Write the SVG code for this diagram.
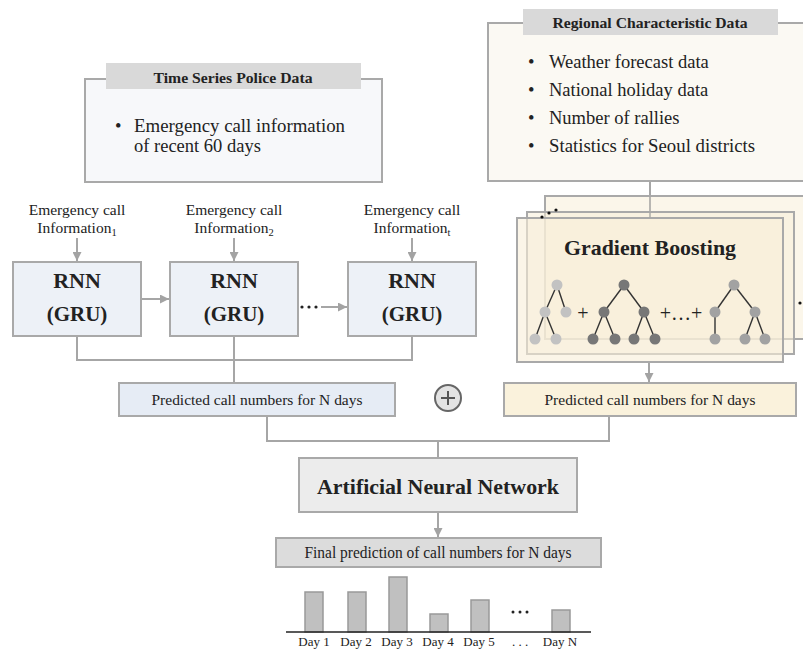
<svg xmlns="http://www.w3.org/2000/svg" width="803" height="650" viewBox="0 0 803 650">
<defs>
<marker id="ah" viewBox="0 0 10 10" refX="10" refY="5" markerWidth="9" markerHeight="9" markerUnits="userSpaceOnUse" orient="auto">
<path d="M0,0 L10,5 L0,10 z" fill="#a3a3a3"/>
</marker>
<style>
.t{font-family:"Liberation Serif","Times New Roman",serif;fill:#222}
.b{font-weight:bold}
.box{stroke:#a9a9a9;stroke-width:2}
.ln{stroke:#a6a6a6;stroke-width:2;fill:none}
.ed{stroke:#333;stroke-width:1.4}
.l1{fill:#c2c2c2}.d1{fill:#777}.m1{fill:#a2a2a2}
</style>
</defs>
<rect width="803" height="650" fill="#fff"/>

<g id="connectors">
<line class="ln" x1="77" y1="238" x2="77" y2="261" marker-end="url(#ah)"/>
<line class="ln" x1="234" y1="238" x2="234" y2="261" marker-end="url(#ah)"/>
<line class="ln" x1="412" y1="238" x2="412" y2="261" marker-end="url(#ah)"/>
<line class="ln" x1="141" y1="299" x2="169" y2="299" marker-end="url(#ah)"/>
<line class="ln" x1="321" y1="307" x2="347" y2="307" marker-end="url(#ah)"/>
<polyline class="ln" points="77,336 77,360 412,360 412,336"/>
<line class="ln" x1="234" y1="336" x2="234" y2="383"/>
<polyline class="ln" points="267,416 267,441 609,441 609,416"/>
<line class="ln" x1="438" y1="441" x2="438" y2="458"/>
<line class="ln" x1="438" y1="512" x2="438" y2="537" marker-end="url(#ah)"/>
<line class="ln" x1="650" y1="181" x2="650" y2="218"/>
<line class="ln" x1="649" y1="362" x2="649" y2="382" marker-end="url(#ah)"/>
</g>

<g id="time-series-box">
<rect class="box" x="85" y="79" width="297" height="103" fill="#f7f8fa"/>
<rect x="106" y="63" width="255" height="26" fill="#d9d9d9"/>
<text class="t b" x="233" y="83" font-size="15" text-anchor="middle" textLength="159" lengthAdjust="spacingAndGlyphs">Time Series Police Data</text>
<text class="t" x="115" y="132" font-size="18.5">•</text>
<text class="t" x="134" y="132" font-size="18.5" textLength="211" lengthAdjust="spacingAndGlyphs">Emergency call information</text>
<text class="t" x="134" y="152" font-size="18.5">of recent 60 days</text>
</g>

<g id="regional-box">
<rect class="box" x="488" y="23" width="330" height="158" fill="#fbf9f3"/>
<rect x="523" y="9" width="255" height="26" fill="#d9d9d9"/>
<text class="t b" x="650" y="28" font-size="15" text-anchor="middle" textLength="195" lengthAdjust="spacingAndGlyphs">Regional Characteristic Data</text>
<text class="t" x="528" y="68" font-size="18.5">•</text>
<text class="t" x="549" y="68" font-size="18.5">Weather forecast data</text>
<text class="t" x="528" y="96" font-size="18.5">•</text>
<text class="t" x="549" y="96" font-size="18.5">National holiday data</text>
<text class="t" x="528" y="124" font-size="18.5">•</text>
<text class="t" x="549" y="124" font-size="18.5">Number of rallies</text>
<text class="t" x="528" y="152" font-size="18.5">•</text>
<text class="t" x="549" y="152" font-size="18.5" textLength="206" lengthAdjust="spacingAndGlyphs">Statistics for Seoul districts</text>
</g>

<g id="input-labels">
<text class="t" x="77" y="215" font-size="15.5" text-anchor="middle">Emergency call</text>
<text class="t" x="77" y="233" font-size="15.5" text-anchor="middle">Information<tspan font-size="10.5" dy="3">1</tspan></text>
<text class="t" x="234" y="215" font-size="15.5" text-anchor="middle">Emergency call</text>
<text class="t" x="234" y="233" font-size="15.5" text-anchor="middle">Information<tspan font-size="10.5" dy="3">2</tspan></text>
<text class="t" x="412" y="215" font-size="15.5" text-anchor="middle">Emergency call</text>
<text class="t" x="412" y="233" font-size="15.5" text-anchor="middle">Information<tspan font-size="10.5" dy="3">t</tspan></text>
</g>

<g id="rnn1">
<rect class="box" x="13" y="262" width="128" height="74" fill="#edf1f7"/>
<text class="t b" x="77" y="288" font-size="22" text-anchor="middle">RNN</text>
<text class="t b" x="77" y="321" font-size="21" text-anchor="middle">(GRU)</text>
</g>
<g id="rnn2">
<rect class="box" x="170" y="262" width="128" height="74" fill="#edf1f7"/>
<text class="t b" x="234" y="288" font-size="22" text-anchor="middle">RNN</text>
<text class="t b" x="234" y="321" font-size="21" text-anchor="middle">(GRU)</text>
</g>
<g id="rnn-dots">
<circle cx="302" cy="307" r="1.6" fill="#222"/>
<circle cx="309" cy="307" r="1.6" fill="#222"/>
<circle cx="316" cy="307" r="1.6" fill="#222"/>
</g>
<g id="rnn3">
<rect class="box" x="348" y="262" width="128" height="74" fill="#edf1f7"/>
<text class="t b" x="412" y="288" font-size="22" text-anchor="middle">RNN</text>
<text class="t b" x="412" y="321" font-size="21" text-anchor="middle">(GRU)</text>
</g>

<g id="gradient-boosting">
<rect class="box" x="545" y="196" width="270" height="143" fill="#f8efd8" fill-opacity="0.55"/>
<rect class="box" x="527" y="212" width="267" height="142" fill="#f8efd8" fill-opacity="0.55"/>
<rect class="box" x="517" y="218" width="266" height="144" fill="#f8efd8" fill-opacity="0.6"/>
<line class="ln" x1="650" y1="196" x2="650" y2="218" stroke-opacity="0.6"/>
<circle cx="542" cy="217" r="1.6" fill="#111"/>
<circle cx="549" cy="213" r="1.6" fill="#111"/>
<circle cx="556" cy="210" r="1.6" fill="#111"/>
<circle cx="800" cy="303" r="1.6" fill="#111"/>
<text class="t b" x="650" y="255" font-size="22" text-anchor="middle" textLength="172" lengthAdjust="spacingAndGlyphs">Gradient Boosting</text>
<g>
<line class="ed" x1="557" y1="285" x2="545" y2="312"/><line class="ed" x1="557" y1="285" x2="566" y2="312"/>
<line class="ed" x1="545" y1="312" x2="535" y2="339"/><line class="ed" x1="545" y1="312" x2="556" y2="339"/>
<circle class="l1" cx="557" cy="285" r="5.5"/><circle class="l1" cx="545" cy="312" r="5.5"/><circle class="l1" cx="566" cy="312" r="5.5"/>
<circle class="l1" cx="535" cy="339" r="5.5"/><circle class="l1" cx="556" cy="339" r="5.5"/>
</g>
<text class="t" x="583" y="320" font-size="20" text-anchor="middle">+</text>
<g>
<line class="ed" x1="624" y1="285" x2="604" y2="312"/><line class="ed" x1="624" y1="285" x2="644" y2="312"/>
<line class="ed" x1="604" y1="312" x2="593" y2="339"/><line class="ed" x1="604" y1="312" x2="615" y2="339"/>
<line class="ed" x1="644" y1="312" x2="634" y2="339"/><line class="ed" x1="644" y1="312" x2="655" y2="339"/>
<circle class="d1" cx="624" cy="285" r="5.5"/><circle class="d1" cx="604" cy="312" r="5.5"/><circle class="d1" cx="644" cy="312" r="5.5"/>
<circle class="d1" cx="593" cy="339" r="5.5"/><circle class="d1" cx="615" cy="339" r="5.5"/><circle class="d1" cx="634" cy="339" r="5.5"/><circle class="d1" cx="655" cy="339" r="5.5"/>
</g>
<text class="t" x="681" y="320" font-size="20" text-anchor="middle">+…+</text>
<g>
<line class="ed" x1="734" y1="285" x2="715" y2="312"/><line class="ed" x1="734" y1="285" x2="755" y2="312"/>
<line class="ed" x1="715" y1="312" x2="715" y2="339"/>
<line class="ed" x1="755" y1="312" x2="745" y2="339"/><line class="ed" x1="755" y1="312" x2="765" y2="339"/>
<circle class="m1" cx="734" cy="285" r="5.5"/><circle class="m1" cx="715" cy="312" r="5.5"/><circle class="m1" cx="755" cy="312" r="5.5"/>
<circle class="m1" cx="715" cy="339" r="5.5"/><circle class="m1" cx="745" cy="339" r="5.5"/><circle class="m1" cx="765" cy="339" r="5.5"/>
</g>
</g>

<g id="pred-rnn">
<rect class="box" x="119" y="383" width="276" height="33" fill="#e6ecf5"/>
<text class="t" x="257" y="405" font-size="15.5" text-anchor="middle" textLength="211" lengthAdjust="spacingAndGlyphs">Predicted call numbers for N days</text>
</g>

<g id="plus">
<circle cx="448" cy="398" r="13" fill="#e3e3e3" stroke="#666" stroke-width="2"/>
<path d="M441,398 H455 M448,391 V405" stroke="#555" stroke-width="2"/>
</g>

<g id="pred-gb">
<rect class="box" x="504" y="383" width="292" height="33" fill="#faf2dc"/>
<text class="t" x="650" y="405" font-size="15.5" text-anchor="middle" textLength="211" lengthAdjust="spacingAndGlyphs">Predicted call numbers for N days</text>
</g>

<g id="ann">
<rect class="box" x="299" y="458" width="278" height="54" fill="#ececec"/>
<text class="t b" x="438" y="494" font-size="22" text-anchor="middle" textLength="242" lengthAdjust="spacingAndGlyphs">Artificial Neural Network</text>
</g>

<g id="final">
<rect class="box" x="276" y="538" width="325" height="29" fill="#dcdcdc"/>
<text class="t" x="438" y="558" font-size="16" text-anchor="middle" textLength="267" lengthAdjust="spacingAndGlyphs">Final prediction of call numbers for N days</text>
</g>

<g id="bar-chart">
<g fill="#c0c0c0" stroke="#999" stroke-width="1.5">
<rect x="305" y="592" width="18" height="40"/>
<rect x="348" y="592" width="18" height="40"/>
<rect x="389" y="577" width="18" height="55"/>
<rect x="430" y="614" width="18" height="18"/>
<rect x="471" y="600" width="18" height="32"/>
<rect x="552" y="610" width="18" height="22"/>
</g>
<line x1="286" y1="632" x2="591" y2="632" stroke="#222" stroke-width="1.5"/>
<circle cx="513" cy="612" r="1.5" fill="#222"/><circle cx="520" cy="612" r="1.5" fill="#222"/><circle cx="527" cy="612" r="1.5" fill="#222"/>
<g font-size="13" text-anchor="middle">
<text class="t" x="314" y="646">Day 1</text>
<text class="t" x="356" y="646">Day 2</text>
<text class="t" x="397" y="646">Day 3</text>
<text class="t" x="438" y="646">Day 4</text>
<text class="t" x="479" y="646">Day 5</text>
<text class="t" x="520" y="646">. . .</text>
<text class="t" x="560" y="646">Day N</text>
</g>
</g>
</svg>
